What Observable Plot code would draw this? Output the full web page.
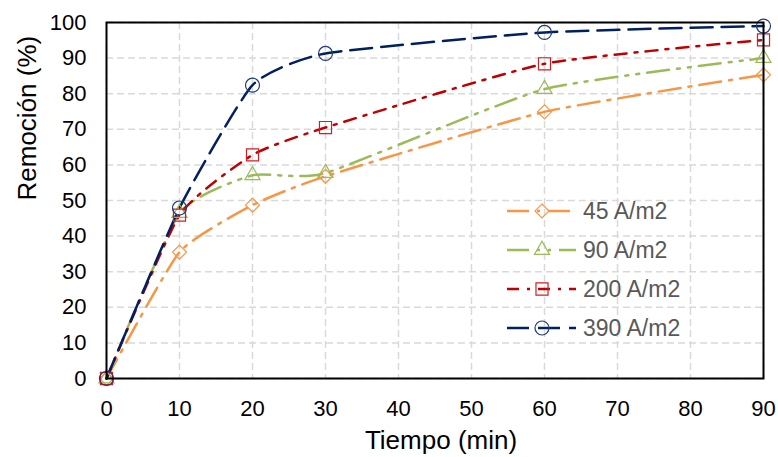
<!DOCTYPE html>
<html>
<head>
<meta charset="utf-8">
<script src="https://cdn.jsdelivr.net/npm/d3@7"></script>
<script src="https://cdn.jsdelivr.net/npm/@observablehq/plot@0.6"></script>
<style>
  html, body { margin: 0; padding: 0; background: #fff; }
  #wrap { position: relative; width: 778px; height: 457px; }
  #legend { position: absolute; left: 0; top: 0; pointer-events: none; }
</style>
</head>
<body>
<div id="wrap"></div>
<script>
// ---- data ----
const tiempo = [0, 10, 20, 30, 60, 90];
const r45  = [0, 35.5, 48.7, 56.8, 74.9, 85.3];
const r90  = [0, 46.5, 57.1, 57.7, 81.3, 90.0];
const r200 = [0, 45.9, 62.8, 70.5, 88.4, 95.1];
const r390 = [0, 47.9, 82.4, 91.3, 97.2, 99.0];
const seriesNames = ["45 A/m2", "90 A/m2", "200 A/m2", "390 A/m2"];
const seriesValues = [r45, r90, r200, r390];
const xTicks = [0, 10, 20, 30, 40, 50, 60, 70, 80, 90];
const yTicks = [0, 10, 20, 30, 40, 50, 60, 70, 80, 90, 100];

// ---- styles ----
const styles = [
  {color: "#F79646", mcolor: "#F79646", symbol: "diamond2", r: 6.3, dash: "22,8,3,8"},
  {color: "#9BBB59", mcolor: "#9BBB59", symbol: "triangle", r: 5.6, dash: "22,8,3,8,3,8"},
  {color: "#C00000", mcolor: "#D02020", symbol: "square", r: 6.8, dash: "12,8,3,8"},
  {color: "#002060", mcolor: "#1F3A78", symbol: "circle", r: 7, dash: "22,9"}
];

const rows = seriesNames.flatMap((name, i) =>
  tiempo.map((t, j) => ({serie: name, t, v: seriesValues[i][j]})));

const smooth = d3.curveCardinal.tension(0.5);

const marks = [
  Plot.gridX(xTicks, {stroke: "#d9d9d9", strokeOpacity: 1, strokeWidth: 1.5, strokeDasharray: "7,4"}),
  Plot.gridY(yTicks, {stroke: "#d9d9d9", strokeOpacity: 1, strokeWidth: 1.5, strokeDasharray: "7,4"})
];
seriesNames.forEach((name, i) => {
  const s = styles[i];
  const data = rows.filter(d => d.serie === name);
  marks.push(Plot.line(data, {x: "t", y: "v", stroke: s.color, strokeWidth: 2.5,
    strokeDasharray: s.dash, curve: smooth}));
});
seriesNames.forEach((name, i) => {
  const s = styles[i];
  const data = rows.filter(d => d.serie === name);
  marks.push(Plot.dot(data, {x: "t", y: "v", symbol: s.symbol, r: s.r, stroke: s.mcolor,
    fill: "none", strokeWidth: 1.2}));
});
marks.push(Plot.frame({stroke: "#000", strokeWidth: 2}));
marks.push(Plot.text(["Tiempo (min)"], {frameAnchor: "bottom", lineAnchor: "bottom", dy: 70, dx: 6,
  fontSize: 26, fill: "#000"}));
marks.push(Plot.text(["Remoción (%)"], {frameAnchor: "left", rotate: -90, dx: -79,
  fontSize: 26, fill: "#000"}));

const chart = Plot.plot({
  width: 778,
  height: 457,
  marginLeft: 106,
  marginRight: 15,
  marginTop: 22,
  marginBottom: 79,
  style: {fontFamily: "Liberation Sans, Arial, sans-serif", fontSize: "22px", color: "#000", background: "#fff"},
  x: {domain: [0, 90], ticks: xTicks, tickSize: 0, tickPadding: 22, label: null},
  y: {domain: [0, 100], ticks: yTicks, tickSize: 0, tickPadding: 20, label: null},
  marks
});
document.getElementById("wrap").appendChild(chart);

// ---- legend (overlay) ----
const leg = d3.select("#wrap").append("svg")
  .attr("id", "legend").attr("width", 778).attr("height", 457);
const symMap = {diamond2: d3.symbolDiamond2, triangle: d3.symbolTriangle, square: d3.symbolSquare, circle: d3.symbolCircle};
const legX0 = 507, legX1 = 576, legMX = 542, legTX = 583;
const legY = [211, 250, 289, 328];
seriesNames.forEach((name, i) => {
  const s = styles[i];
  const g = leg.append("g").attr("transform", `translate(0,${legY[i]})`);
  g.append("line").attr("x1", legX0).attr("x2", legX1).attr("y1", 0).attr("y2", 0)
    .attr("stroke", s.color).attr("stroke-width", 2.5).attr("stroke-dasharray", s.dash);
  g.append("path").attr("transform", `translate(${legMX},0)`)
    .attr("d", d3.symbol(symMap[s.symbol], Math.PI * s.r * s.r)())
    .attr("fill", "none").attr("stroke", s.mcolor).attr("stroke-width", 1.2);
  g.append("text").attr("x", legTX).attr("y", 0).attr("dy", "0.35em")
    .attr("font-family", "Liberation Sans, Arial, sans-serif").attr("font-size", 23)
    .attr("fill", "#595959").text(name);
});
</script>
</body>
</html>
